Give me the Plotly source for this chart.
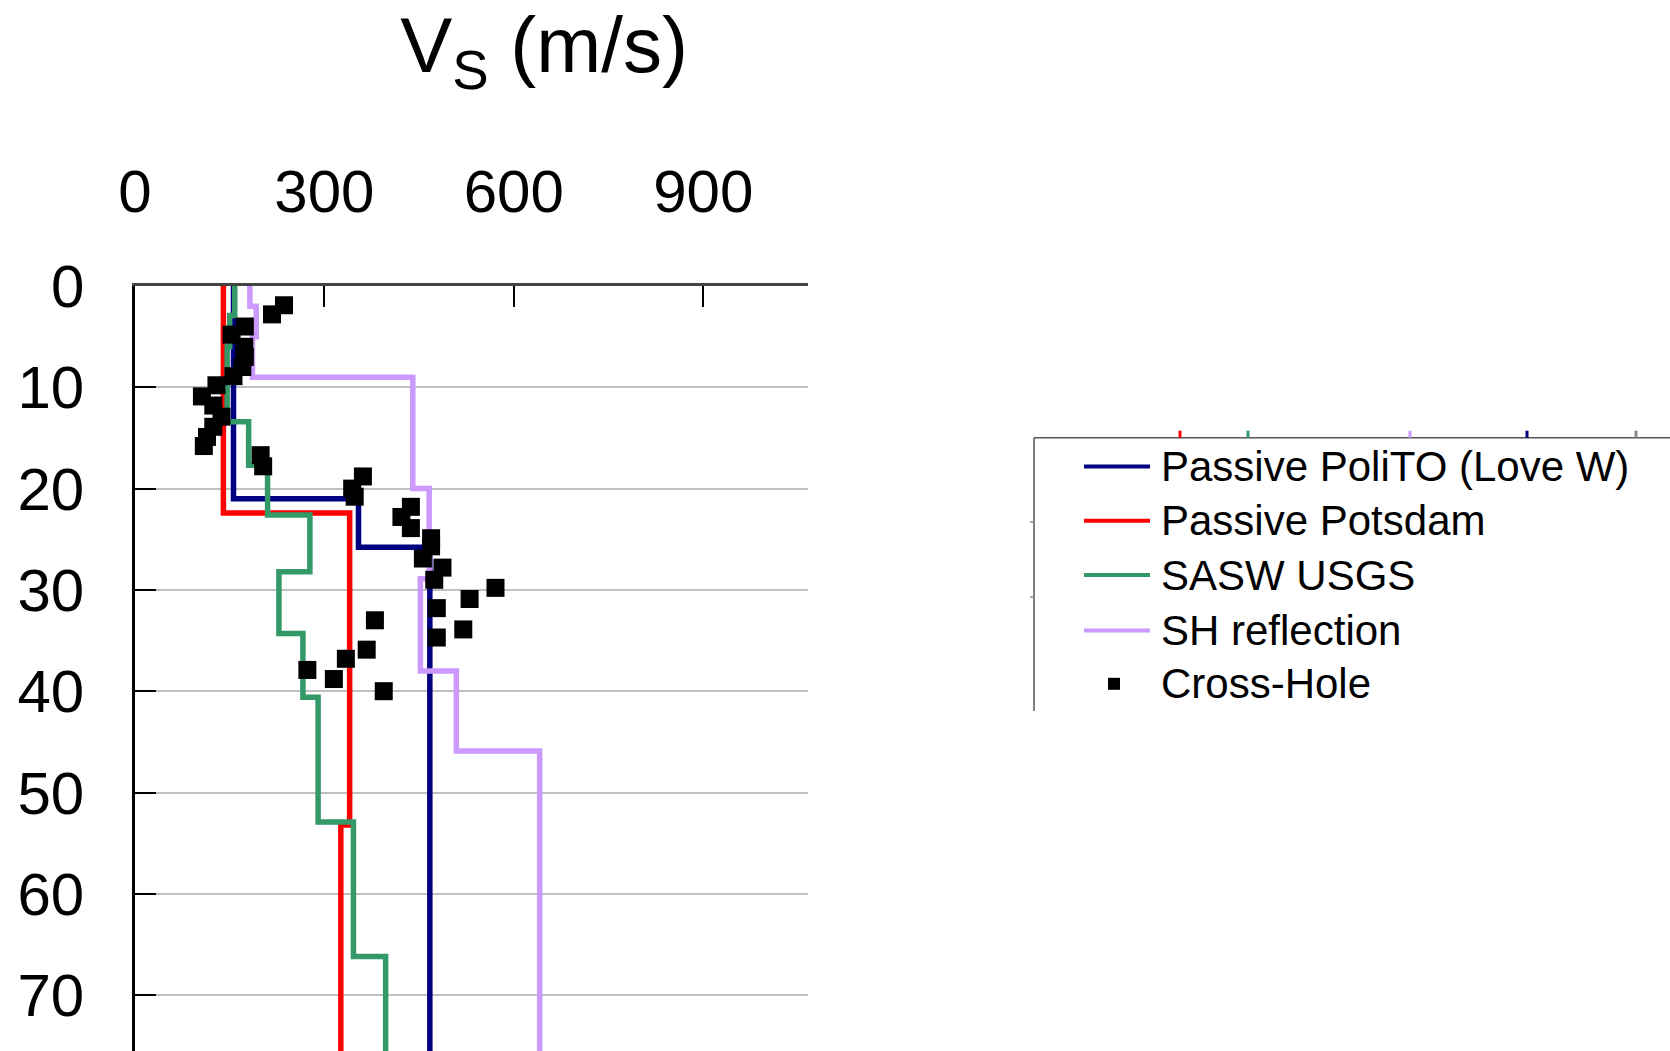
import plotly.graph_objects as go

# ---------------- data ----------------
# layered Vs profiles: velocity of each layer and depth of its top (m)
polito_vs = [156, 354, 467]
polito_top = [0, 21.0, 25.8]

potsdam_vs = [140, 340, 326]
potsdam_top = [0, 22.4, 53.2]

sasw_vs = [158, 150, 146, 180, 210, 277, 228, 266, 290, 346, 397]
sasw_top = [0, 2.9, 6.0, 13.4, 17.7, 22.6, 28.2, 34.3, 40.6, 52.9, 66.2]

sh_vs = [182, 192, 186, 440, 466, 452, 509, 641]
sh_top = [0, 2.0, 5.0, 9.0, 20.0, 28.9, 38.0, 45.9]

profile_bottom = 80

crosshole_depth = [1.9, 2.8, 4.0, 4.8, 6.0, 7.0, 8.0, 8.9, 9.8, 10.9, 11.8, 12.9, 13.9,
                   14.9, 15.8, 16.7, 17.8, 18.8, 20.0, 20.8, 21.8, 22.8, 23.9, 24.9,
                   25.7, 26.9, 27.8, 29.0, 29.8, 30.9, 31.8, 33.0, 33.9, 34.7, 35.9,
                   36.8, 37.9, 38.8, 40.0]
crosshole_vs = [236, 217, 174, 153, 173, 174, 170, 156, 129, 106, 124, 137, 124,
                114, 109, 199, 203, 361, 344, 348, 437, 422, 437, 469,
                469, 456, 487, 474, 571, 530, 478, 380, 520, 478, 367,
                334, 273, 315, 394]

x_ticks = [0, 300, 600, 900]
y_ticks = [0, 10, 20, 30, 40, 50, 60, 70]

series_names = ["Passive PoliTO (Love W)", "Passive Potsdam", "SASW USGS", "SH reflection"]
series_colors = ["#000080", "#FF0000", "#339966", "#CC99FF"]
crosshole_name = "Cross-Hole"

# ---------------- layout geometry (pixels) ----------------
W, H = 1670, 1051
L, T, R = 135, 286, 808
B = H
X_MAX = 1066
Y_MAX = (B - T) / 101.3 * 10

FONT = "Liberation Sans, Arial, sans-serif"


def px_x(px):
    return (px - L) / (R - L)


def px_y(py):
    return (B - py) / (B - T)


def steps(vs, top):
    return vs + [vs[-1]], top + [profile_bottom]


fig = go.Figure()
profiles = [(polito_vs, polito_top), (potsdam_vs, potsdam_top), (sasw_vs, sasw_top), (sh_vs, sh_top)]
for (vs, top), name, col in zip(profiles, series_names, series_colors):
    x, y = steps(vs, top)
    fig.add_trace(go.Scatter(x=x, y=y, mode="lines", name=name, line_shape="vh",
                             line=dict(color=col, width=5.5), showlegend=False))

fig.add_trace(go.Scatter(x=crosshole_vs, y=crosshole_depth, mode="markers", name=crosshole_name,
                         marker=dict(symbol="square", size=18, color="black"), showlegend=False))

fig.update_xaxes(range=[0, X_MAX], side="top", tickvals=x_ticks, ticks="inside", ticklen=21,
                 tickwidth=1.5, tickcolor="black", showline=True, linecolor="#444444", linewidth=2.5,
                 showgrid=False, zeroline=False, automargin=False,
                 tickfont=dict(family=FONT, size=60, color="black"), ticklabelstandoff=47)
fig.update_yaxes(range=[Y_MAX, 0], tickvals=y_ticks, ticks="inside", ticklen=21, tickwidth=1.5,
                 tickcolor="black", showline=True, linecolor="black", linewidth=2.5,
                 showgrid=True, gridcolor="#c0c0c0", gridwidth=1.5, zeroline=False, automargin=False,
                 tickfont=dict(family=FONT, size=60, color="black"), ticklabelstandoff=36)

shapes = []
annotations = []

# manual legend
leg_frame_x = 1034
leg_frame_top = 437.7
leg_frame_bottom = 711
shapes.append(dict(type="line", xref="paper", yref="paper", x0=px_x(leg_frame_x), x1=px_x(W + 5),
                   y0=px_y(leg_frame_top), y1=px_y(leg_frame_top), line=dict(color="#555555", width=1.5)))
shapes.append(dict(type="line", xref="paper", yref="paper", x0=px_x(leg_frame_x), x1=px_x(leg_frame_x),
                   y0=px_y(leg_frame_top), y1=px_y(leg_frame_bottom), line=dict(color="#555555", width=1.5)))
for tx, tc in zip([1180, 1248, 1410, 1527, 1636], ["#FF0000", "#339966", "#CC99FF", "#000080", "#888888"]):
    shapes.append(dict(type="line", xref="paper", yref="paper", x0=px_x(tx), x1=px_x(tx),
                       y0=px_y(leg_frame_top), y1=px_y(leg_frame_top - 7), line=dict(color=tc, width=3)))
for ty in [522, 597]:
    shapes.append(dict(type="line", xref="paper", yref="paper", x0=px_x(leg_frame_x - 4), x1=px_x(leg_frame_x),
                       y0=px_y(ty), y1=px_y(ty), line=dict(color="#888888", width=1.5)))

row_y = [466.5, 520.8, 575.1, 630.5, 683.8]
for name, col, ry in zip(series_names, series_colors, row_y[:4]):
    shapes.append(dict(type="line", xref="paper", yref="paper", x0=px_x(1084), x1=px_x(1150),
                       y0=px_y(ry), y1=px_y(ry), line=dict(color=col, width=4)))
    annotations.append(dict(text=name, xref="paper", yref="paper", x=px_x(1159), y=px_y(ry),
                            xanchor="left", yanchor="middle", showarrow=False,
                            font=dict(family=FONT, size=42, color="black")))
ry = row_y[4]
shapes.append(dict(type="rect", xref="paper", yref="paper", x0=px_x(1108), x1=px_x(1120),
                   y0=px_y(ry - 6), y1=px_y(ry + 6), fillcolor="black", line=dict(width=0)))
annotations.append(dict(text=crosshole_name, xref="paper", yref="paper", x=px_x(1159), y=px_y(ry),
                        xanchor="left", yanchor="middle", showarrow=False,
                        font=dict(family=FONT, size=42, color="black")))

fig.update_layout(
    width=W, height=H,
    margin=dict(l=L, r=W - R, t=T, b=0, pad=0),
    paper_bgcolor="white", plot_bgcolor="white",
    template="none",
    showlegend=False,
    title=dict(text="V<sub>S</sub> (m/s)", x=544 / W, xref="container", xanchor="center",
               y=0.983, yref="container", yanchor="top",
               font=dict(family=FONT, size=78, color="black")),
    shapes=shapes,
    annotations=annotations,
)

fig.write_html("out.html")
